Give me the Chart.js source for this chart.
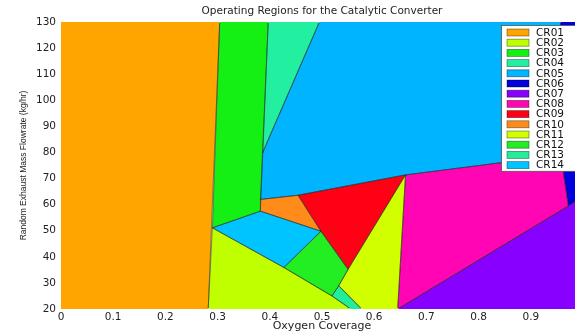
<!DOCTYPE html>
<html>
<head>
<meta charset="utf-8">
<script src="https://cdn.jsdelivr.net/npm/chart.js@4"></script>
<style>
  html, body { margin: 0; padding: 0; background: #fff; overflow: hidden; }
  #wrap { width: 575px; height: 335px; overflow: hidden; }
  #box { width: 600px; height: 335px; }
</style>
</head>
<body>
<div id="wrap"><div id="box"><canvas id="chart"></canvas></div></div>
<script>
// ===== DATA =====
const regionNames = ['CR01', 'CR02', 'CR03', 'CR04', 'CR05', 'CR06', 'CR07',
                     'CR08', 'CR09', 'CR10', 'CR11', 'CR12', 'CR13', 'CR14'];
const xTicks = [0, 0.1, 0.2, 0.3, 0.4, 0.5, 0.6, 0.7, 0.8, 0.9, 1];
const yTicks = [20, 30, 40, 50, 60, 70, 80, 90, 100, 110, 120, 130];

// corners of each region: [oxygen coverage, flowrate]
const cr01 = [[0, 20], [0, 130], [0.304, 130], [0.282, 20]];
const cr02 = [[0.282, 20], [0.290, 51.1], [0.427, 35.9], [0.519, 25], [0.555, 20]];
const cr03 = [[0.304, 130], [0.397, 130], [0.382, 57.5], [0.290, 51.1]];
const cr04 = [[0.397, 130], [0.495, 130], [0.386, 79.8]];
const cr05 = [[0.495, 130], [0.957, 130], [0.957, 79], [0.660, 71.4], [0.454, 63.6], [0.382, 62], [0.386, 79.8]];
const cr06 = [[0.957, 130], [1, 130], [1, 63], [0.972, 59.5], [0.962, 72.8], [0.957, 79]];
const cr07 = [[0.645, 20], [0.972, 59.5], [1, 63], [1, 20]];
const cr08 = [[0.660, 71.4], [0.957, 79], [0.962, 72.8], [0.972, 59.5], [0.645, 20]];
const cr09 = [[0.454, 63.6], [0.660, 71.4], [0.550, 35.2], [0.498, 49.8]];
const cr10 = [[0.382, 62], [0.454, 63.6], [0.498, 49.8], [0.382, 57.5]];
const cr11 = [[0.532, 28.9], [0.550, 35.2], [0.660, 71.4], [0.645, 20], [0.576, 20]];
const cr12 = [[0.427, 35.9], [0.498, 49.8], [0.550, 35.2], [0.532, 28.9], [0.519, 25]];
const cr13 = [[0.519, 25], [0.532, 28.9], [0.576, 20], [0.555, 20]];
const cr14 = [[0.290, 51.1], [0.382, 57.5], [0.498, 49.8], [0.427, 35.9]];

const regions = [cr01, cr02, cr03, cr04, cr05, cr06, cr07, cr08, cr09, cr10, cr11, cr12, cr13, cr14];

// ===== STYLE =====
const regionColors = ['#FFA500', '#BFFF00', '#14F014', '#22F0A0', '#00B4FF', '#0000DC', '#8800FF',
                      '#FF05B4', '#FF0015', '#FF8C1A', '#D2FF00', '#22EE22', '#22EE99', '#00C4FF'];

// ve cac vung: lay toa do diem tu scale cua chart roi to kin
const polygonFill = {
  id: 'polygonFill',
  beforeDatasetsDraw(chart) {
    const { ctx, chartArea: a } = chart;
    ctx.save();
    ctx.beginPath();
    ctx.rect(a.left, a.top, a.right - a.left, a.bottom - a.top);
    ctx.clip();
    chart.data.datasets.forEach((ds, i) => {
      const pts = chart.getDatasetMeta(i).data;
      ctx.beginPath();
      pts.forEach((p, k) => k ? ctx.lineTo(p.x, p.y) : ctx.moveTo(p.x, p.y));
      ctx.closePath();
      ctx.fillStyle = ds.backgroundColor;
      ctx.fill();
    });
    ctx.restore();

    // duong bien giua cac vung
    ctx.save();
    ctx.beginPath();
    ctx.rect(a.left + 1, a.top + 1, a.right - a.left - 2, a.bottom - a.top - 2);
    ctx.clip();
    ctx.strokeStyle = 'rgba(30,30,30,0.6)';
    ctx.lineWidth = 0.8;
    chart.data.datasets.forEach((ds, i) => {
      const pts = chart.getDatasetMeta(i).data;
      ctx.beginPath();
      pts.forEach((p, k) => k ? ctx.lineTo(p.x, p.y) : ctx.moveTo(p.x, p.y));
      ctx.closePath();
      ctx.stroke();
    });
    ctx.restore();
  }
};

// legend trong khung, goc tren ben phai
const boxLegend = {
  id: 'boxLegend',
  afterDraw(chart) {
    const ctx = chart.ctx;
    const ds = chart.data.datasets;
    const x0 = 501.5, y0 = 25.5, rowH = 10.2;
    ctx.save();
    ctx.fillStyle = '#fff';
    ctx.fillRect(x0, y0, 100, ds.length * rowH + 3);
    ctx.strokeStyle = '#555';
    ctx.lineWidth = 0.8;
    ctx.strokeRect(x0, y0, 100, ds.length * rowH + 3);
    ctx.font = '10.5px "DejaVu Sans"';
    ctx.textBaseline = 'middle';
    ds.forEach((d, i) => {
      const cy = y0 + 7 + i * rowH;
      ctx.fillStyle = d.backgroundColor;
      ctx.fillRect(507, cy - 3.5, 22, 7);
      ctx.strokeStyle = 'rgba(0,0,0,0.45)';
      ctx.strokeRect(507, cy - 3.5, 22, 7);
      ctx.fillStyle = '#111';
      ctx.fillText(d.label, 536, cy + 0.5);
    });
    ctx.restore();
  }
};

// ===== CHART =====
document.addEventListener('DOMContentLoaded', () => {
  const ctx = document.getElementById('chart').getContext('2d');

  new Chart(ctx, {
    type: 'scatter',
    data: {
      datasets: regions.map((r, i) => ({
        label: regionNames[i],
        data: r.map(([x, y]) => ({ x, y })),
        backgroundColor: regionColors[i],
        borderColor: regionColors[i],
        pointRadius: 0,
        showLine: false
      }))
    },
    options: {
      responsive: true,
      maintainAspectRatio: false,
      animation: false,
      layout: { padding: { left: 0, right: 17, top: 0, bottom: 0 } },
      plugins: {
        legend: { display: false },
        tooltip: { enabled: false },
        title: {
          display: true,
          text: 'Operating Regions for the Catalytic Converter',
          fullSize: false,
          color: '#222',
          font: { family: 'DejaVu Sans', size: 10.5, weight: 'normal' },
          padding: { top: 5, bottom: 4.4 }
        }
      },
      scales: {
        x: {
          type: 'linear',
          min: 0,
          max: 1,
          grid: { display: false, drawTicks: false },
          border: { display: false },
          afterBuildTicks: s => { s.ticks = xTicks.map(v => ({ value: v })); },
          afterFit: s => { s.height = 26; },
          ticks: {
            autoSkip: false,
            maxRotation: 0,
            padding: 1.5,
            color: '#222',
            font: { family: 'DejaVu Sans', size: 10.5 },
            callback: v => String(v)
          },
          title: {
            display: true,
            text: 'Oxygen Coverage',
            color: '#222',
            font: { family: 'DejaVu Sans', size: 11 },
            padding: { top: 0, bottom: 2 }
          }
        },
        y: {
          type: 'linear',
          min: 20,
          max: 130,
          grid: { display: false, drawTicks: false },
          border: { display: false },
          afterBuildTicks: s => { s.ticks = yTicks.map(v => ({ value: v })); },
          afterFit: s => { s.width = 61; },
          ticks: {
            autoSkip: false,
            padding: 5,
            color: '#222',
            font: { family: 'DejaVu Sans', size: 10.5 },
            callback: v => String(v)
          },
          title: {
            display: true,
            text: 'Random Exhaust Mass Flowrate (kg/hr)',
            color: '#222',
            font: { family: 'Liberation Sans', size: 8.5 },
            padding: { top: 18.5, bottom: 0 }
          }
        }
      }
    },
    plugins: [polygonFill, boxLegend]
  });
});
</script>
</body>
</html>
